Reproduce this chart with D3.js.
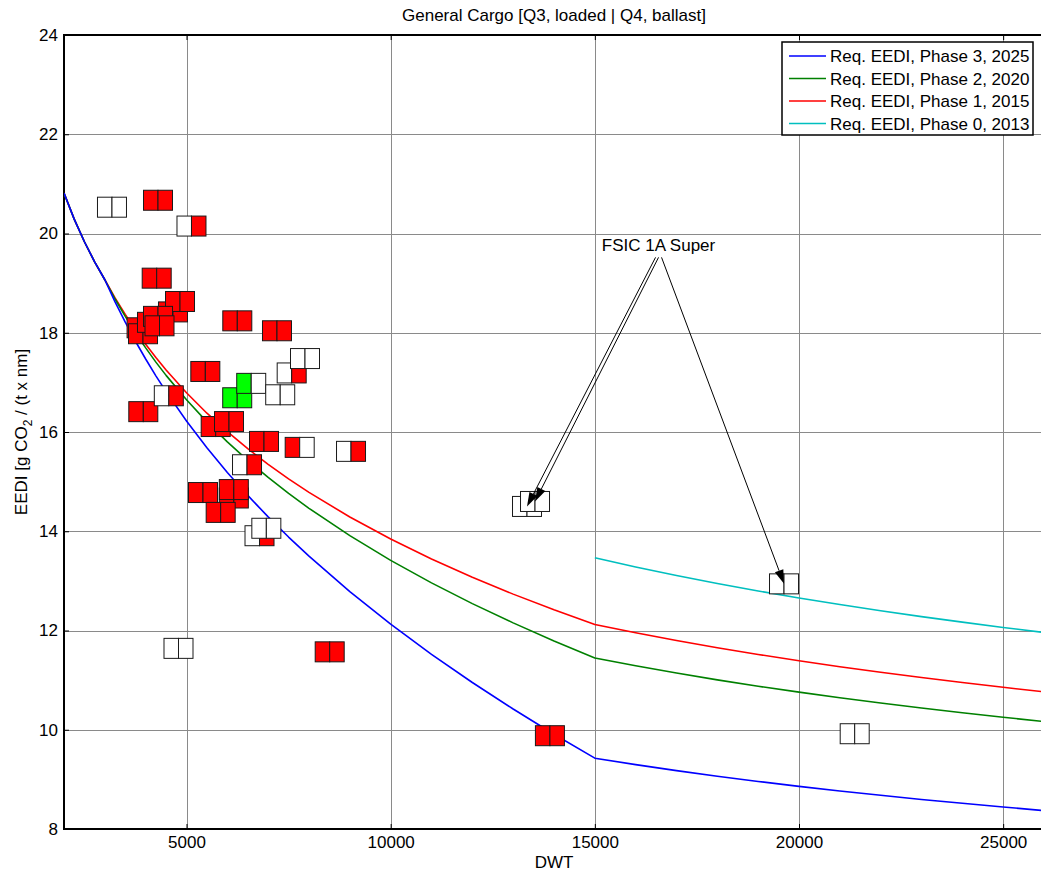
<!DOCTYPE html>
<html>
<head>
<meta charset="utf-8">
<script src="https://cdn.jsdelivr.net/npm/d3@7"></script>
<style>
  body { margin: 0; background: #fff; }
  svg { display: block; }
  text { font-family: "Liberation Sans", Arial, Helvetica, sans-serif; fill: #000; }
</style>
</head>
<body>
<svg id="chart" width="1041" height="872"></svg>
<script>
// Required EEDI reference curves (DWT sampling and values per phase)
const curveDwt = [2000, 2250, 2500, 2750, 3000, 3250, 3500, 3750, 4000, 4250, 4500, 5000, 5500, 6000, 6500, 7000, 7500, 8000,
  9000, 10000, 11000, 12000, 13000, 14000, 15000, 16000, 17000, 18000, 19000, 20000,
  21000, 22000, 23000, 24000, 25000, 26000];
const phase3 = [20.813, 20.289, 19.834, 19.428, 19.068, 18.622, 18.213, 17.829, 17.471, 17.131, 16.814, 16.222, 15.682, 15.185, 14.722, 14.290, 13.883, 13.498,
  12.783, 12.128, 11.520, 10.952, 10.418, 9.910, 9.427, 9.297, 9.176, 9.063, 8.958, 8.859,
  8.766, 8.679, 8.596, 8.518, 8.443, 8.371];
const phase2 = [20.813, 20.289, 19.834, 19.428, 19.068, 18.680, 18.329, 18.000, 17.695, 17.408, 17.141, 16.649, 16.204, 15.800, 15.428, 15.084, 14.763, 14.462,
  13.911, 13.414, 12.960, 12.542, 12.154, 11.789, 11.447, 11.289, 11.142, 11.005, 10.877, 10.758,
  10.645, 10.538, 10.438, 10.343, 10.252, 10.165];
const phase1 = [20.813, 20.289, 19.834, 19.428, 19.068, 18.700, 18.367, 18.056, 17.770, 17.500, 17.251, 16.791, 16.379, 16.006, 15.663, 15.349, 15.056, 14.783,
  14.287, 13.843, 13.440, 13.072, 12.733, 12.416, 12.120, 11.953, 11.797, 11.652, 11.517, 11.390,
  11.271, 11.158, 11.052, 10.951, 10.855, 10.763];
const phase0Dwt = [15000, 16000, 17000, 18000, 19000, 20000, 21000, 22000, 23000, 24000, 25000, 26000];
const phase0 = [13.467, 13.281, 13.108, 12.947, 12.797, 12.656, 12.523, 12.398, 12.280, 12.168, 12.061, 11.959];

const seriesNames = ["Req. EEDI, Phase 3, 2025", "Req. EEDI, Phase 2, 2020", "Req. EEDI, Phase 1, 2015", "Req. EEDI, Phase 0, 2013"];
const seriesColors = ["#0000ff", "#008000", "#ff0000", "#00bfbf"];

// Ships: attained EEDI, left half = Q3 loaded, right half = Q4 ballast
const shipDwt = [3175, 4302, 5122, 4270, 4669, 4841, 6244, 7216,
  3900, 3935, 4155, 4302, 4339,
  7576, 7902, 5461, 6242, 6585, 7295, 3942, 4567, 5715, 6041, 6898, 7772, 9029, 6482,
  5404, 6159, 6159, 5837, 6788, 6955, 4804, 8507, 13339, 13535, 19633, 21364, 13900];
const shipEedi = [20.53, 20.67, 20.15, 19.10, 18.42, 18.63, 18.24, 18.04,
  18.10, 17.98, 18.21, 18.33, 18.14,
  17.19, 17.48, 17.22, 16.69, 16.98, 16.75, 16.41, 16.73, 16.11, 16.21, 15.81, 15.69, 15.61, 15.34,
  14.78, 14.67, 14.84, 14.38, 13.91, 14.06, 11.64, 11.57, 14.50, 14.60, 12.94, 9.92, 9.88];
const loadedFill = ["w", "r", "w", "r", "r", "r", "r", "r",
  "r", "r", "r", "r", "r",
  "w", "w", "r", "g", "g", "w", "r", "w", "r", "r", "r", "r", "w", "w",
  "r", "r", "r", "r", "w", "w", "w", "r", "w", "w", "w", "w", "r"];
const ballastFill = ["w", "r", "r", "r", "r", "r", "r", "r",
  "r", "r", "r", "r", "r",
  "r", "w", "r", "g", "w", "w", "r", "r", "r", "r", "r", "w", "r", "r",
  "r", "r", "r", "r", "r", "w", "w", "r", "w", "w", "w", "w", "r"];

// Annotation: label position and the ships it points to
const noteText = "FSIC 1A Super";
const noteDwt = 16560;
const noteEedi = 19.64;
const noteShips = [35, 36, 37];

const xTicks = [5000, 10000, 15000, 20000, 25000];
const yTicks = [8, 10, 12, 14, 16, 18, 20, 22, 24];

const fillColor = { r: "#ff0000", w: "#ffffff", g: "#00ff00" };

const svg = d3.select("#chart");
const pL = 64, pR = 1044, pT = 35, pB = 829;
const x = d3.scaleLinear().domain([2000, 26000]).range([pL, pR]);
const y = d3.scaleLinear().domain([8, 24]).range([pB, pT]);

svg.append("rect").attr("width", 1041).attr("height", 872).attr("fill", "#fff");

svg.append("defs").append("clipPath").attr("id", "plotClip")
  .append("rect").attr("x", pL).attr("y", pT).attr("width", pR - pL).attr("height", pB - pT);

// Grid lines
const grid = svg.append("g").attr("stroke", "#8a8a8a").attr("stroke-width", 1).attr("shape-rendering", "crispEdges");
grid.selectAll("line.gx").data(xTicks).join("line").attr("class", "gx")
  .attr("x1", d => Math.round(x(d)) + 0.5).attr("x2", d => Math.round(x(d)) + 0.5)
  .attr("y1", pT).attr("y2", pB);
grid.selectAll("line.gy").data(yTicks.slice(1, -1)).join("line").attr("class", "gy")
  .attr("y1", d => Math.round(y(d)) + 0.5).attr("y2", d => Math.round(y(d)) + 0.5)
  .attr("x1", pL).attr("x2", pR);

// Axes with inward ticks
const axisFont = "17px";
const xAxis = svg.append("g").attr("transform", `translate(0,${pB})`)
  .call(d3.axisBottom(x).tickValues(xTicks).tickSizeInner(-5).tickSizeOuter(0).tickPadding(7).tickFormat(d3.format("d")));
xAxis.select(".domain").remove();
xAxis.selectAll("text").attr("font-size", axisFont).attr("font-family", "Liberation Sans, Arial, sans-serif");
const xAxisTop = svg.append("g").attr("transform", `translate(0,${pT})`)
  .call(d3.axisTop(x).tickValues(xTicks).tickSizeInner(-5).tickSizeOuter(0).tickFormat(""));
xAxisTop.select(".domain").remove();

const yAxis = svg.append("g").attr("transform", `translate(${pL},0)`)
  .call(d3.axisLeft(y).tickValues(yTicks).tickSizeInner(-5).tickSizeOuter(0).tickPadding(6));
yAxis.select(".domain").remove();
yAxis.selectAll("text").attr("font-size", axisFont).attr("font-family", "Liberation Sans, Arial, sans-serif");

// Axes box
svg.append("rect").attr("x", pL).attr("y", pT).attr("width", pR - pL).attr("height", pB - pT)
  .attr("fill", "none").attr("stroke", "#000").attr("stroke-width", 2);

const plot = svg.append("g").attr("clip-path", "url(#plotClip)");

// Reference curves
const line = d3.line().x(d => x(d[0])).y(d => y(d[1]));
const curves = [
  d3.zip(curveDwt, phase3),
  d3.zip(curveDwt, phase2),
  d3.zip(curveDwt, phase1),
  d3.zip(phase0Dwt, phase0)
];
// draw order: cyan, red, green, blue (blue on top)
[3, 2, 1, 0].forEach(i => {
  plot.append("path").datum(curves[i]).attr("d", line)
    .attr("fill", "none").attr("stroke", seriesColors[i]).attr("stroke-width", 1.6)
    .attr("stroke-linejoin", "round");
});

// Ship markers
const hw = 14.5, hh = 10;
const ships = shipDwt.map((d, i) => ({ dwt: d, eedi: shipEedi[i], q3: loadedFill[i], q4: ballastFill[i] }));
const mk = plot.selectAll("g.ship").data(ships).join("g").attr("class", "ship")
  .attr("transform", d => `translate(${x(d.dwt)},${y(d.eedi)})`);
mk.append("rect").attr("x", -hw).attr("y", -hh).attr("width", hw).attr("height", 2 * hh)
  .attr("fill", d => fillColor[d.q3]).attr("stroke", "#1a1a1a").attr("stroke-width", 1);
mk.append("rect").attr("x", 0).attr("y", -hh).attr("width", hw).attr("height", 2 * hh)
  .attr("fill", d => fillColor[d.q4]).attr("stroke", "#1a1a1a").attr("stroke-width", 1);

// Annotation arrows
const nx = x(noteDwt), ny = y(noteEedi);
svg.append("text").attr("x", nx).attr("y", ny).attr("text-anchor", "middle")
  .attr("font-size", "17px").text(noteText);
const tails = [[nx - 3, ny + 6], [nx, ny + 6], [nx + 3, ny + 6]];
noteShips.forEach((si, k) => {
  const tx = x(ships[si].dwt), ty = y(ships[si].eedi);
  const [sx, sy] = tails[k];
  const ang = Math.atan2(ty - sy, tx - sx);
  const len = 14, wid = 4.5;
  const bx = tx - len * Math.cos(ang), by = ty - len * Math.sin(ang);
  svg.append("line").attr("x1", sx).attr("y1", sy).attr("x2", bx).attr("y2", by)
    .attr("stroke", "#000").attr("stroke-width", 1);
  svg.append("polygon")
    .attr("points", [[tx, ty],
      [bx + wid * Math.sin(ang), by - wid * Math.cos(ang)],
      [bx - wid * Math.sin(ang), by + wid * Math.cos(ang)]].map(p => p.join(",")).join(" "))
    .attr("fill", "#000");
});

// Title and axis labels
svg.append("text").attr("x", (pL + pR) / 2).attr("y", 21).attr("text-anchor", "middle")
  .attr("font-size", "17px").text("General Cargo [Q3, loaded | Q4, ballast]");
svg.append("text").attr("x", (pL + pR) / 2).attr("y", 868).attr("text-anchor", "middle")
  .attr("font-size", "17px").text("DWT");
const yl = svg.append("text").attr("transform", `translate(27,${(pT + pB) / 2}) rotate(-90)`)
  .attr("text-anchor", "middle").attr("font-size", "17px");
yl.append("tspan").text("EEDI [g CO");
yl.append("tspan").attr("font-size", "12px").attr("dy", 5).text("2");
yl.append("tspan").attr("dy", -5).text(" / (t x nm]");

// Legend
const lg = svg.append("g");
const lgX = 782, lgY = 42, lgW = 251, lgH = 93;
lg.append("rect").attr("x", lgX).attr("y", lgY).attr("width", lgW).attr("height", lgH)
  .attr("fill", "#fff").attr("stroke", "#000").attr("stroke-width", 1.5);
seriesNames.forEach((name, i) => {
  const ry = 56 + i * 22.5;
  lg.append("line").attr("x1", 789).attr("x2", 826).attr("y1", ry).attr("y2", ry)
    .attr("stroke", seriesColors[i]).attr("stroke-width", 1.6);
  lg.append("text").attr("x", 830).attr("y", ry).attr("dy", "0.36em")
    .attr("font-size", "17px").text(name);
});
</script>
</body>
</html>
